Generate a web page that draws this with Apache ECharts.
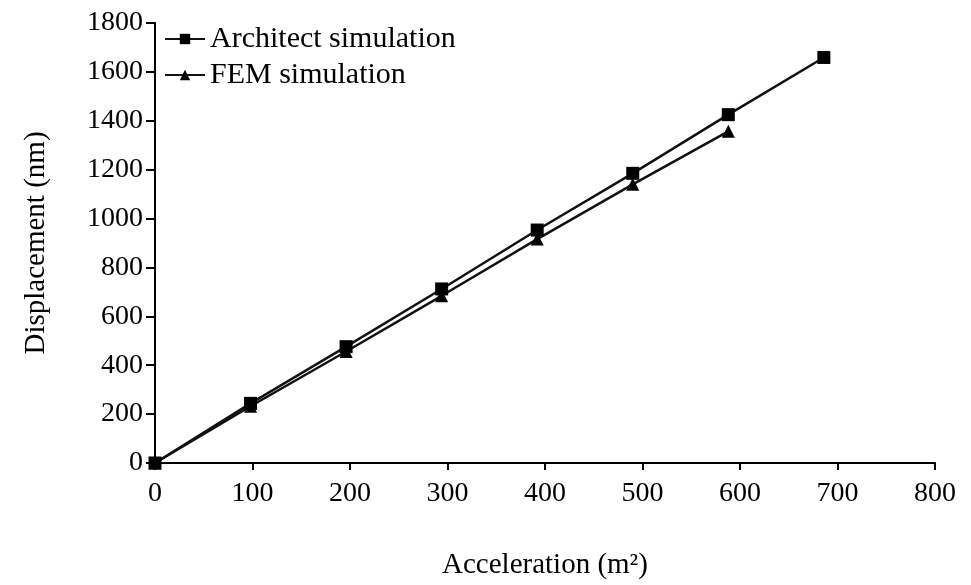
<!DOCTYPE html>
<html><head><meta charset="utf-8">
<script src="https://cdn.jsdelivr.net/npm/echarts@6/dist/echarts.min.js"></script>
<style>html,body{margin:0;padding:0;background:#fff}#c{width:971px;height:585px}</style>
</head><body><div id="c"></div>
<script>
const acceleration = [0, 98, 196, 294, 392, 490, 588, 686];
const architect = [0, 244, 476, 712, 953, 1185, 1425, 1659];
const fem = [0, 232, 456, 684, 916, 1140, 1357];
const xTicks = [0, 100, 200, 300, 400, 500, 600, 700, 800];
const yTicks = [0, 200, 400, 600, 800, 1000, 1200, 1400, 1600, 1800];

const font = 'Liberation Serif';
const chart = echarts.init(document.getElementById('c'));
chart.setOption({
  animation: false,
  backgroundColor: '#fff',
  textStyle: {fontFamily: font, color: '#000'},
  grid: {left: 155, right: 36, top: 23, bottom: 120, containLabel: false},
  legend: {
    left: 159, top: 19, orient: 'vertical', itemGap: 6, itemWidth: 40, itemHeight: 13,
    textStyle: {fontFamily: font, fontSize: 30, color: '#000', padding: [0, 0, 0, 0]},
    data: ['Architect simulation', 'FEM simulation']
  },
  xAxis: {
    type: 'value', min: 0, max: 800, interval: 100,
    name: 'Acceleration (m²)', nameLocation: 'middle', nameGap: 88,
    nameTextStyle: {fontFamily: font, fontSize: 29, color: '#000'},
    axisLine: {show: true, lineStyle: {color: '#000', width: 2}},
    axisTick: {show: true, length: 7, lineStyle: {color: '#000', width: 2}},
    axisLabel: {fontFamily: font, fontSize: 28, color: '#000', margin: 17,
      formatter: v => xTicks.includes(v) ? String(v) : ''},
    splitLine: {show: false}
  },
  yAxis: {
    type: 'value', min: 0, max: 1800, interval: 200,
    name: 'Displacement (nm)', nameLocation: 'middle', nameGap: 104,
    nameTextStyle: {fontFamily: font, fontSize: 29, color: '#000'},
    axisLine: {show: true, lineStyle: {color: '#000', width: 2}},
    axisTick: {show: true, length: 9, lineStyle: {color: '#000', width: 2}},
    axisLabel: {fontFamily: font, fontSize: 28, color: '#000', margin: 12,
      formatter: v => yTicks.includes(v) ? String(v) : ''},
    splitLine: {show: false}
  },
  series: [
    {
      name: 'Architect simulation', type: 'line',
      data: acceleration.map((x, i) => [x, architect[i]]),
      symbol: 'rect', symbolSize: 13, showAllSymbol: true,
      lineStyle: {color: '#111', width: 2.5},
      itemStyle: {color: '#000'}
    },
    {
      name: 'FEM simulation', type: 'line',
      data: fem.map((y, i) => [acceleration[i], y]),
      symbol: 'triangle', symbolSize: 13, showAllSymbol: true,
      lineStyle: {color: '#111', width: 2.5},
      itemStyle: {color: '#000'}
    }
  ]
});
</script></body></html>
